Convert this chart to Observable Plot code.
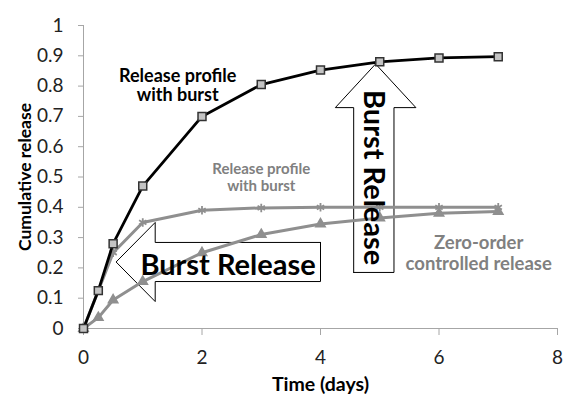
<!DOCTYPE html>
<html>
<head>
<meta charset="utf-8">
<script src="https://cdn.jsdelivr.net/npm/d3@7"></script>
<script src="https://cdn.jsdelivr.net/npm/@observablehq/plot@0.6"></script>
<style>
  html, body { margin: 0; padding: 0; background: #fff; }
  #chart svg { display: block; }
</style>
</head>
<body>
<div id="chart"></div>
<script>
// Sampling times (days)
const days = [0, 0.25, 0.5, 1, 2, 3, 4, 5, 6, 7];
// Cumulative release fractions
const burstHigh = [0, 0.125, 0.28, 0.47, 0.70, 0.805, 0.853, 0.88, 0.893, 0.897];
const burstLow  = [0, 0.125, 0.25, 0.35, 0.39, 0.398, 0.40, 0.40, 0.40, 0.40];
const zeroOrder = [0, 0.036, 0.094, 0.155, 0.25, 0.31, 0.345, 0.365, 0.38, 0.386];

// Axis ticks
const xTicks = [0, 2, 4, 6, 8];
const yTicks = [0, 0.1, 0.2, 0.3, 0.4, 0.5, 0.6, 0.7, 0.8, 0.9, 1];
const yTickLabels = ["0", "0.1", "0.2", "0.3", "0.4", "0.5", "0.6", "0.7", "0.8", "0.9", "1"];

// Block-arrow callouts, outlined in data units (days, release)
const leftArrow = [[4.0, 0.284], [1.21, 0.284], [1.21, 0.35], [0.55, 0.2195], [1.21, 0.089], [1.21, 0.155], [4.0, 0.155], [4.0, 0.284]];
const upArrow = [[4.56, 0.185], [4.56, 0.729], [4.25, 0.729], [4.93, 0.873], [5.61, 0.729], [5.24, 0.729], [5.24, 0.185], [4.56, 0.185]];

const rows = (ys) => days.map((d, i) => ({day: d, value: ys[i]}));
const high = rows(burstHigh), low = rows(burstLow), zero = rows(zeroOrder);

const GRAY = "#8f8f8f";
const AXIS = "#a6a6a6";

const curveLabels = [
  {x: 1.59, y: 0.803, text: "Release profile\nwith burst", fill: "#000", size: 18, lh: 1.1},
  {x: 3.0, y: 0.50, text: "Release profile\nwith burst", fill: "#808080", size: 15, lh: 1.16},
  {x: 6.67, y: 0.249, text: "Zero-order\ncontrolled release", fill: "#808080", size: 18.5, lh: 1.1}
];

const labelMark = (d) => Plot.text([d], {x: "x", y: "y", text: "text", fill: d.fill, fontSize: d.size,
  fontWeight: "bold", lineHeight: d.lh, textAnchor: "middle", lineAnchor: "middle"});

const chart = Plot.plot({
  width: 563,
  height: 407,
  marginLeft: 83,
  marginRight: 6,
  marginTop: 25,
  marginBottom: 79,
  x: {domain: [0, 8]},
  y: {domain: [0, 1]},
  style: {fontFamily: "Lato, 'Open Sans', sans-serif", background: "#fff", color: "#222"},
  marks: [
    // callout shapes sit behind the curves
    Plot.line(leftArrow, {x: d => d[0], y: d => d[1], fill: "#fff", stroke: "#000", strokeWidth: 1, curve: "linear"}),
    Plot.line(upArrow, {x: d => d[0], y: d => d[1], fill: "#fff", stroke: "#000", strokeWidth: 1, curve: "linear"}),

    // axes
    Plot.ruleX([0], {stroke: AXIS}),
    Plot.ruleY([0], {stroke: AXIS}),
    Plot.axisY(yTicks, {tickSize: 5, tickPadding: 15, stroke: AXIS, fill: "#222", fontSize: 19, label: null,
      tickFormat: (d, i) => yTickLabels[i]}),
    Plot.axisX(xTicks, {tickSize: 7, tickPadding: 15, stroke: AXIS, fill: "#222", fontSize: 19, label: null}),

    // zero-order release
    Plot.line(zero, {x: "day", y: "value", stroke: GRAY, strokeWidth: 3}),
    Plot.dot(zero, {x: "day", y: "value", symbol: "triangle", r: 3.5, fill: GRAY, stroke: GRAY}),
    // low burst profile
    Plot.line(low, {x: "day", y: "value", stroke: GRAY, strokeWidth: 3}),
    Plot.dot(low, {x: "day", y: "value", symbol: "asterisk", r: 4, stroke: GRAY, strokeWidth: 1.8}),
    // high burst profile
    Plot.line(high, {x: "day", y: "value", stroke: "#000", strokeWidth: 2.8}),
    Plot.dot(high, {x: "day", y: "value", symbol: "square", r: 4.5, fill: "#c4c4c4", stroke: "#333", strokeWidth: 1.5}),

    // curve labels
    ...curveLabels.map(labelMark),
    // callout texts
    Plot.text(["Burst Release"], {x: () => 2.44, y: () => 0.207, fontSize: 29, fontWeight: "bold", fill: "#000", textAnchor: "middle", lineAnchor: "middle"}),
    Plot.text(["Burst Release"], {x: () => 4.89, y: () => 0.498, rotate: 90, fontSize: 29, fontWeight: "bold", fill: "#000", textAnchor: "middle", lineAnchor: "middle"}),

    // axis titles
    Plot.text(["Cumulative release"], {frameAnchor: "left", dx: -58, rotate: -90, fontSize: 17.5, fontWeight: "bold", fill: "#000", textAnchor: "middle", lineAnchor: "middle"}),
    Plot.text(["Time (days)"], {frameAnchor: "bottom", dy: 56, fontSize: 19.5, fontWeight: "bold", fill: "#000", textAnchor: "middle", lineAnchor: "middle"})
  ]
});

document.getElementById("chart").append(chart);
</script>
</body>
</html>
